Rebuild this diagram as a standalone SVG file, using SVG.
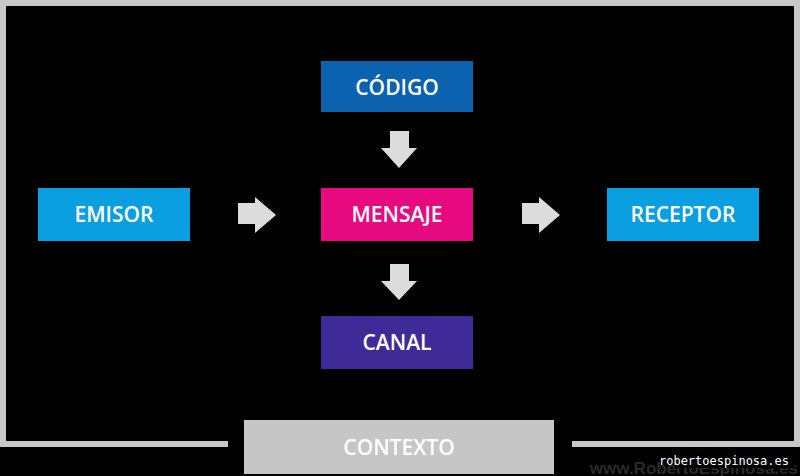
<svg xmlns="http://www.w3.org/2000/svg" width="800" height="476" viewBox="0 0 800 476">
<style>
.t{font-family:"Open Sans","Noto Sans",sans-serif;font-size:21px;font-weight:600;fill:#fff;text-anchor:middle}
.ar{fill:#dcdcdc}
.fr{fill:none;stroke:#c8c8c8;stroke-width:6}
</style>
<rect width="800" height="476" fill="#000"/>
<g id="frame"><path class="fr" d="M228 444H3V3H797V444H572"/></g>
<g id="connectors">
<path class="ar" d="M238 203H255V197L276 215L255 233V224H238Z"/>
<path class="ar" d="M522 203H539V197L560 215L539 233V224H522Z"/>
<path class="ar" d="M390 131H409V148H417L399 168L381 148H390Z"/>
<path class="ar" d="M390 264H409V281H417L399 300L381 281H390Z"/>
</g>
<g id="codigo"><rect x="321" y="61" width="152" height="51" fill="#0b62ae"/><text class="t" x="397" y="95">CÓDIGO</text></g>
<g id="mensaje"><rect x="321" y="188" width="152" height="53" fill="#e6097f"/><text class="t" x="397" y="222">MENSAJE</text></g>
<g id="canal"><rect x="321" y="316" width="152" height="53" fill="#3f2b98"/><text class="t" x="397" y="350">CANAL</text></g>
<g id="emisor"><rect x="38" y="188" width="152" height="53" fill="#0a9fe0"/><text class="t" x="114" y="222">EMISOR</text></g>
<g id="receptor"><rect x="607" y="188" width="152" height="53" fill="#0a9fe0"/><text class="t" x="683" y="222">RECEPTOR</text></g>
<g id="contexto"><rect x="244" y="420" width="310" height="54" fill="#c6c6c6"/><text class="t" x="399" y="455">CONTEXTO</text></g>
<text x="798" y="474" text-anchor="end" font-family="Liberation Sans,sans-serif" font-weight="bold" font-size="17" fill="#2a2a2a">www.RobertoEspinosa.es</text>
<rect x="678" y="453" width="116" height="15" fill="#000"/>
<text x="789" y="465" text-anchor="end" font-family="DejaVu Sans Mono,monospace" font-size="12" fill="#fff">robertoespinosa.es</text>
</svg>
